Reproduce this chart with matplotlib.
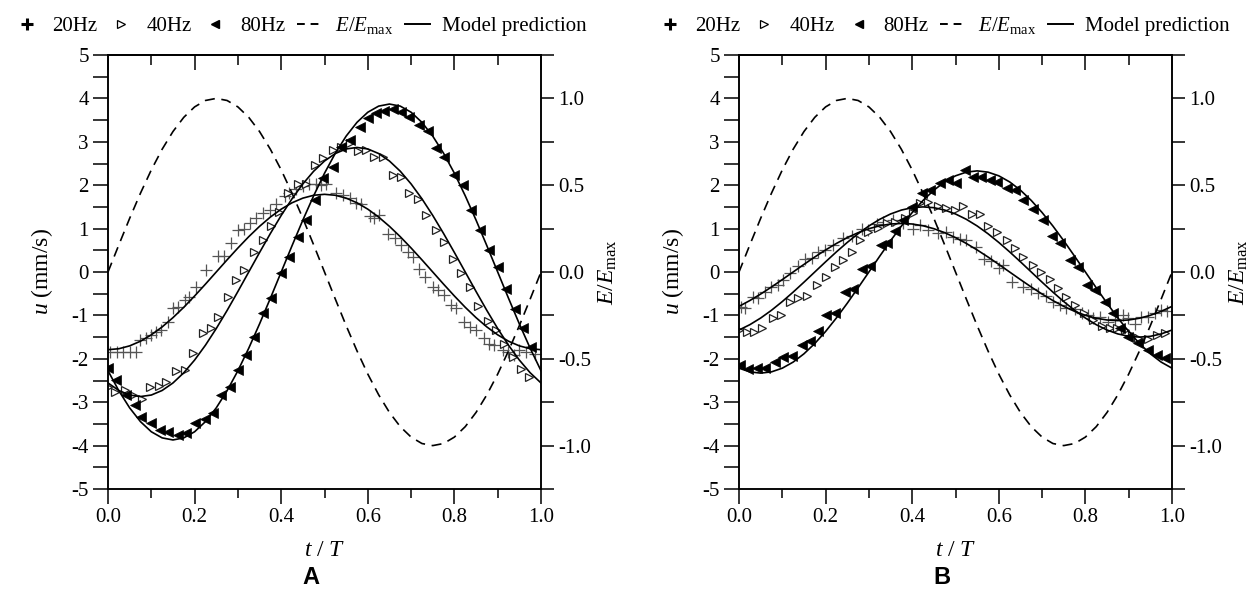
import numpy as np
import matplotlib
matplotlib.use("Agg")
import matplotlib.pyplot as plt
from matplotlib.lines import Line2D
from matplotlib.ticker import MultipleLocator

plt.rcParams['font.family'] = ['Liberation Serif', 'DejaVu Serif']
plt.rcParams['mathtext.fontset'] = 'custom'
plt.rcParams['mathtext.rm'] = 'Liberation Serif'
plt.rcParams['mathtext.it'] = 'Liberation Serif:italic'
plt.rcParams['axes.unicode_minus'] = False

# ---------------- panel A : measured points ----------------
a20_t = [0.005, 0.02, 0.035, 0.05, 0.065, 0.075, 0.088, 0.10, 0.11, 0.123, 0.138, 0.15, 0.162,
         0.177, 0.188, 0.204, 0.227, 0.254, 0.267, 0.285, 0.30, 0.315, 0.327, 0.342, 0.358,
         0.373, 0.388, 0.408, 0.419, 0.435, 0.45, 0.465, 0.481, 0.492, 0.504, 0.527, 0.542,
         0.558, 0.573, 0.585, 0.604, 0.615, 0.627, 0.646, 0.662, 0.677, 0.692, 0.704, 0.719,
         0.731, 0.75, 0.762, 0.777, 0.792, 0.804, 0.823, 0.835, 0.85, 0.869, 0.881, 0.892,
         0.912, 0.923, 0.938, 0.95, 0.965, 0.985]
a20_u = [-1.84, -1.84, -1.84, -1.84, -1.84, -1.57, -1.53, -1.45, -1.38, -1.34, -1.15, -0.84, -0.80,
         -0.65, -0.57, -0.34, 0.05, 0.37, 0.38, 0.66, 0.97, 1.00, 1.14, 1.24, 1.37,
         1.43, 1.57, 1.75, 1.82, 1.91, 1.98, 2.03, 2.03, 2.00, 2.03, 1.82, 1.78,
         1.70, 1.58, 1.57, 1.28, 1.24, 1.32, 0.88, 0.78, 0.62, 0.47, 0.35, 0.06,
         -0.11, -0.35, -0.42, -0.53, -0.76, -0.84, -1.15, -1.26, -1.34, -1.53, -1.65, -1.68,
         -1.80, -1.84, -1.92, -1.80, -1.84, -1.88]

a40_t = [0.0, 0.016, 0.039, 0.058, 0.078, 0.098, 0.118, 0.135, 0.158, 0.178, 0.197, 0.22, 0.237,
         0.254, 0.277, 0.296, 0.315, 0.338, 0.358, 0.377, 0.396, 0.415, 0.438, 0.458, 0.477,
         0.496, 0.519, 0.538, 0.558, 0.577, 0.596, 0.615, 0.635, 0.658, 0.677, 0.696, 0.715,
         0.735, 0.758, 0.777, 0.796, 0.815, 0.835, 0.854, 0.877, 0.897, 0.915, 0.935, 0.954, 0.973]
a40_u = [-2.66, -2.76, -2.72, -2.83, -2.93, -2.66, -2.63, -2.53, -2.27, -2.26, -1.86, -1.41, -1.30,
         -1.03, -0.57, -0.18, 0.05, 0.47, 0.74, 1.05, 1.39, 1.82, 2.03, 2.03, 2.47,
         2.62, 2.82, 2.88, 2.98, 2.78, 2.80, 2.64, 2.66, 2.24, 2.20, 1.82, 1.68,
         1.32, 0.97, 0.70, 0.30, -0.03, -0.34, -0.78, -1.14, -1.34, -1.65, -1.95, -2.24, -2.41]

a80_t = [0.0, 0.019, 0.042, 0.062, 0.077, 0.10, 0.119, 0.138, 0.162, 0.181, 0.20, 0.223, 0.242,
         0.262, 0.281, 0.30, 0.319, 0.338, 0.358, 0.377, 0.40, 0.419, 0.438, 0.458, 0.477,
         0.496, 0.519, 0.538, 0.558, 0.581, 0.60, 0.619, 0.638, 0.658, 0.677, 0.696, 0.719,
         0.738, 0.758, 0.777, 0.80, 0.819, 0.838, 0.858, 0.881, 0.90, 0.919, 0.94, 0.958, 0.977]
a80_u = [-2.22, -2.49, -2.84, -3.07, -3.34, -3.49, -3.65, -3.68, -3.76, -3.72, -3.49, -3.38, -3.26,
         -2.84, -2.65, -2.26, -1.92, -1.49, -0.95, -0.61, -0.03, 0.35, 0.80, 1.20, 1.65,
         2.16, 2.43, 2.89, 3.05, 3.35, 3.55, 3.66, 3.70, 3.75, 3.68, 3.58, 3.39,
         3.24, 2.85, 2.66, 2.24, 2.00, 1.43, 0.97, 0.51, 0.12, -0.40, -0.86, -1.30, -1.72]

# ---------------- panel B : measured points ----------------
b20_t = [0.005, 0.015, 0.033, 0.045, 0.06, 0.075, 0.09, 0.102, 0.118, 0.137, 0.152, 0.168, 0.183,
         0.198, 0.218, 0.241, 0.26, 0.283, 0.298, 0.318, 0.333, 0.356, 0.379, 0.402, 0.418,
         0.437, 0.46, 0.479, 0.495, 0.51, 0.525, 0.548, 0.566, 0.583, 0.60, 0.61, 0.63,
         0.656, 0.675, 0.69, 0.71, 0.725, 0.741, 0.756, 0.775, 0.791, 0.806, 0.818, 0.833,
         0.852, 0.868, 0.887, 0.898, 0.914, 0.929, 0.945, 0.96, 0.975, 0.988]
b20_u = [-0.80, -0.84, -0.57, -0.60, -0.45, -0.34, -0.30, -0.18, -0.03, 0.14, 0.30, 0.33, 0.47,
         0.51, 0.62, 0.78, 0.83, 0.98, 0.97, 1.10, 1.16, 1.20, 1.12, 1.00, 1.08,
         0.97, 0.91, 0.93, 0.80, 0.75, 0.74, 0.58, 0.29, 0.25, 0.10, 0.16, -0.22,
         -0.34, -0.40, -0.49, -0.55, -0.68, -0.76, -0.82, -0.86, -0.95, -0.99, -1.07, -1.03,
         -1.15, -1.09, -0.99, -1.07, -1.20, -1.03, -1.03, -0.95, -0.88, -0.90]

b40_t = [0.0, 0.018, 0.035, 0.052, 0.079, 0.098, 0.118, 0.137, 0.156, 0.179, 0.202, 0.222, 0.241,
         0.26, 0.279, 0.298, 0.322, 0.341, 0.36, 0.383, 0.402, 0.418, 0.437, 0.46, 0.479,
         0.498, 0.518, 0.537, 0.556, 0.575, 0.595, 0.618, 0.637, 0.656, 0.679, 0.698, 0.718,
         0.737, 0.756, 0.777, 0.797, 0.818, 0.838, 0.856, 0.873, 0.891, 0.907, 0.922, 0.945,
         0.965, 0.984]
b40_u = [-1.34, -1.38, -1.38, -1.30, -1.07, -0.99, -0.68, -0.60, -0.55, -0.30, -0.11, 0.12, 0.28,
         0.47, 0.74, 0.93, 1.01, 1.14, 1.16, 1.24, 1.37, 1.58, 1.62, 1.51, 1.47,
         1.43, 1.51, 1.33, 1.33, 1.05, 0.93, 0.74, 0.55, 0.35, 0.16, 0.01, -0.17,
         -0.38, -0.57, -0.76, -0.95, -1.10, -1.24, -1.28, -1.30, -1.34, -1.45, -1.53, -1.55,
         -1.45, -1.41]

b80_t = [0.002, 0.021, 0.041, 0.06, 0.083, 0.102, 0.122, 0.145, 0.164, 0.183, 0.202, 0.222, 0.245,
         0.264, 0.285, 0.302, 0.329, 0.341, 0.36, 0.379, 0.40, 0.422, 0.44, 0.464, 0.483,
         0.502, 0.522, 0.541, 0.56, 0.579, 0.595, 0.618, 0.637, 0.656, 0.68, 0.702, 0.722,
         0.741, 0.764, 0.783, 0.804, 0.822, 0.845, 0.864, 0.88, 0.899, 0.922, 0.945, 0.965, 0.984]
b80_u = [-2.14, -2.24, -2.22, -2.22, -2.07, -1.97, -1.93, -1.68, -1.60, -1.37, -0.99, -0.95, -0.45,
         -0.40, 0.08, 0.13, 0.62, 0.66, 0.95, 1.20, 1.50, 1.82, 1.89, 2.05, 2.12,
         2.06, 2.35, 2.20, 2.20, 2.12, 2.08, 1.93, 1.89, 1.66, 1.45, 1.20, 0.82,
         0.66, 0.28, 0.12, -0.30, -0.42, -0.70, -0.95, -1.30, -1.49, -1.64, -1.80, -1.91, -1.99]

# ---------------- model predictions (read every 0.025 of t/T) ----------------
t_model = np.linspace(0, 1, 41)

a20_model = [-1.790, -1.768, -1.702, -1.595, -1.448, -1.266, -1.052, -0.813, -0.553, -0.280, 0.0,
             0.280, 0.553, 0.813, 1.052, 1.266, 1.448, 1.595, 1.702, 1.768, 1.790,
             1.768, 1.702, 1.595, 1.448, 1.266, 1.052, 0.813, 0.553, 0.280, 0.0,
             -0.280, -0.553, -0.813, -1.052, -1.266, -1.448, -1.595, -1.702, -1.768, -1.790]
a40_model = [-2.557, -2.730, -2.835, -2.870, -2.835, -2.730, -2.557, -2.322, -2.029, -1.687, -1.303,
             -0.887, -0.449, 0.0, 0.449, 0.887, 1.303, 1.687, 2.029, 2.322, 2.557,
             2.730, 2.835, 2.870, 2.835, 2.730, 2.557, 2.322, 2.029, 1.687, 1.303,
             0.887, 0.449, 0.0, -0.449, -0.887, -1.303, -1.687, -2.029, -2.322, -2.557]
a80_model = [-2.275, -2.736, -3.131, -3.448, -3.681, -3.822, -3.870, -3.822, -3.681, -3.448, -3.131,
             -2.736, -2.275, -1.757, -1.196, -0.605, 0.0, 0.605, 1.196, 1.757, 2.275,
             2.736, 3.131, 3.448, 3.681, 3.822, 3.870, 3.822, 3.681, 3.448, 3.131,
             2.736, 2.275, 1.757, 1.196, 0.605, 0.0, -0.605, -1.196, -1.757, -2.275]

b20_model = [-0.792, -0.658, -0.508, -0.346, -0.175, 0.0, 0.175, 0.346, 0.508, 0.658, 0.792,
             0.906, 0.998, 1.065, 1.106, 1.120, 1.106, 1.065, 0.998, 0.906, 0.792,
             0.658, 0.508, 0.346, 0.175, 0.0, -0.175, -0.346, -0.508, -0.658, -0.792,
             -0.906, -0.998, -1.065, -1.106, -1.120, -1.106, -1.065, -0.998, -0.906, -0.792]
b40_model = [-1.337, -1.214, -1.061, -0.882, -0.681, -0.464, -0.235, 0.0, 0.235, 0.464, 0.681,
             0.882, 1.061, 1.214, 1.337, 1.427, 1.482, 1.500, 1.482, 1.427, 1.337,
             1.214, 1.061, 0.882, 0.681, 0.464, 0.235, 0.0, -0.235, -0.464, -0.681,
             -0.882, -1.061, -1.214, -1.337, -1.427, -1.482, -1.500, -1.482, -1.427, -1.337]
b80_model = [-2.216, -2.301, -2.330, -2.301, -2.216, -2.076, -1.885, -1.648, -1.370, -1.058, -0.720,
             -0.364, 0.0, 0.364, 0.720, 1.058, 1.370, 1.648, 1.885, 2.076, 2.216,
             2.301, 2.330, 2.301, 2.216, 2.076, 1.885, 1.648, 1.370, 1.058, 0.720,
             0.364, 0.0, -0.364, -0.720, -1.058, -1.370, -1.648, -1.885, -2.076, -2.216]

# normalised E field, same for both panels
e_norm = [0.0, 0.156, 0.309, 0.454, 0.588, 0.707, 0.809, 0.891, 0.951, 0.988, 1.0,
          0.988, 0.951, 0.891, 0.809, 0.707, 0.588, 0.454, 0.309, 0.156, 0.0,
          -0.156, -0.309, -0.454, -0.588, -0.707, -0.809, -0.891, -0.951, -0.988, -1.0,
          -0.988, -0.951, -0.891, -0.809, -0.707, -0.588, -0.454, -0.309, -0.156, 0.0]

panels = [
    ("A", 108, (a20_t, a20_u), (a40_t, a40_u), (a80_t, a80_u), (a20_model, a40_model, a80_model), 0.445),
    ("B", 739, (b20_t, b20_u), (b40_t, b40_u), (b80_t, b80_u), (b20_model, b40_model, b80_model), 0.473),
]

W, H = 1253, 592
fig = plt.figure(figsize=(W / 100, H / 100), dpi=100)

px = 72 / 100.0  # points per pixel
lw = 1.1
fs_tick = 15
fs_lab = 17

for name, x0, p20, p40, p80, models, leg_x in panels:
    ax = fig.add_axes([x0 / W, 1 - 489 / H, 433 / W, 434 / H])
    ax2 = ax.twinx()

    # model curves
    for m in models:
        ax.plot(t_model, m, color='black', lw=1.2, zorder=3)
    # data
    ax.plot(p20[0], p20[1], ls='none', marker='+', ms=8.5, mew=0.9, color='#555555', zorder=2)
    ax.plot(p40[0], p40[1], ls='none', marker='>', ms=6, mew=0.9, mfc='white', mec='#222222', zorder=2)
    ax.plot(p80[0], p80[1], ls='none', marker='<', ms=6.5, mew=0.5, color='black', zorder=2)
    ax2.plot(t_model, e_norm, color='black', lw=1.2, ls=(0, (6, 4)))

    ax.set_xlim(0, 1)
    ax.set_ylim(-5, 5)
    ax2.set_ylim(-1.25, 1.25)

    ax.xaxis.set_major_locator(MultipleLocator(0.2))
    ax.xaxis.set_minor_locator(MultipleLocator(0.1))
    ax.yaxis.set_major_locator(MultipleLocator(1))
    ax.yaxis.set_minor_locator(MultipleLocator(0.5))
    ax2.yaxis.set_major_locator(MultipleLocator(0.5))
    ax2.yaxis.set_minor_locator(MultipleLocator(0.25))
    ax.xaxis.set_major_formatter(lambda v, p: f"{v:.1f}")
    ax.yaxis.set_major_formatter(lambda v, p: f"{v:.0f}")
    ax2.yaxis.set_major_formatter(lambda v, p: f"{v:.1f}")

    ax.tick_params(axis='x', which='major', direction='out', length=15 * px, width=lw,
                   labelsize=fs_tick, pad=3)
    ax.tick_params(axis='x', which='minor', direction='out', length=9 * px, width=lw)
    ax.tick_params(axis='y', which='both', direction='out', length=15 * px, width=lw,
                   labelsize=fs_tick, pad=3)
    ax2.tick_params(axis='y', which='both', direction='out', length=13 * px, width=lw,
                    labelsize=fs_tick, pad=3)

    top = ax.secondary_xaxis('top')
    top.xaxis.set_major_locator(MultipleLocator(0.2))
    top.xaxis.set_minor_locator(MultipleLocator(0.1))
    top.tick_params(axis='x', which='major', direction='in', length=15 * px, width=lw, labeltop=False)
    top.tick_params(axis='x', which='minor', direction='in', length=10 * px, width=lw)
    top.spines['top'].set_linewidth(lw)

    for a in (ax, ax2):
        for s in a.spines.values():
            s.set_linewidth(lw)

    ax.set_xlabel(r'$t$ / $T$', fontsize=fs_lab, labelpad=9)
    ax.set_ylabel(r'$u$ (mm/s)', fontsize=fs_lab, labelpad=12)
    ax2.set_ylabel(r'$E/E_{\mathrm{max}}$', fontsize=fs_lab, labelpad=4)

    handles = [
        Line2D([], [], ls='none', marker='+', ms=9, mew=2.2, color='black'),
        Line2D([], [], ls='none', marker='>', ms=5.5, mew=0.9, mfc='white', mec='black'),
        Line2D([], [], ls='none', marker='<', ms=6, color='black'),
        Line2D([], [], color='black', lw=1.4, ls=(0, (4, 3))),
        Line2D([], [], color='black', lw=1.4),
    ]
    labels = ['20Hz', '40Hz', '80Hz', r'$E/E_{\mathrm{max}}$', 'Model prediction']
    ax.legend(handles, labels, loc='lower center', bbox_to_anchor=(leg_x, 1.0), ncol=5,
              frameon=False, fontsize=15, handlelength=1.2, handletextpad=0.6,
              columnspacing=0.55, borderaxespad=0.5)

    fig.text((x0 + 203) / W, 1 - 578 / H, name, fontsize=17, fontweight='bold',
             family='Liberation Sans', ha='center', va='center')

fig.savefig('out.png', dpi=100)
